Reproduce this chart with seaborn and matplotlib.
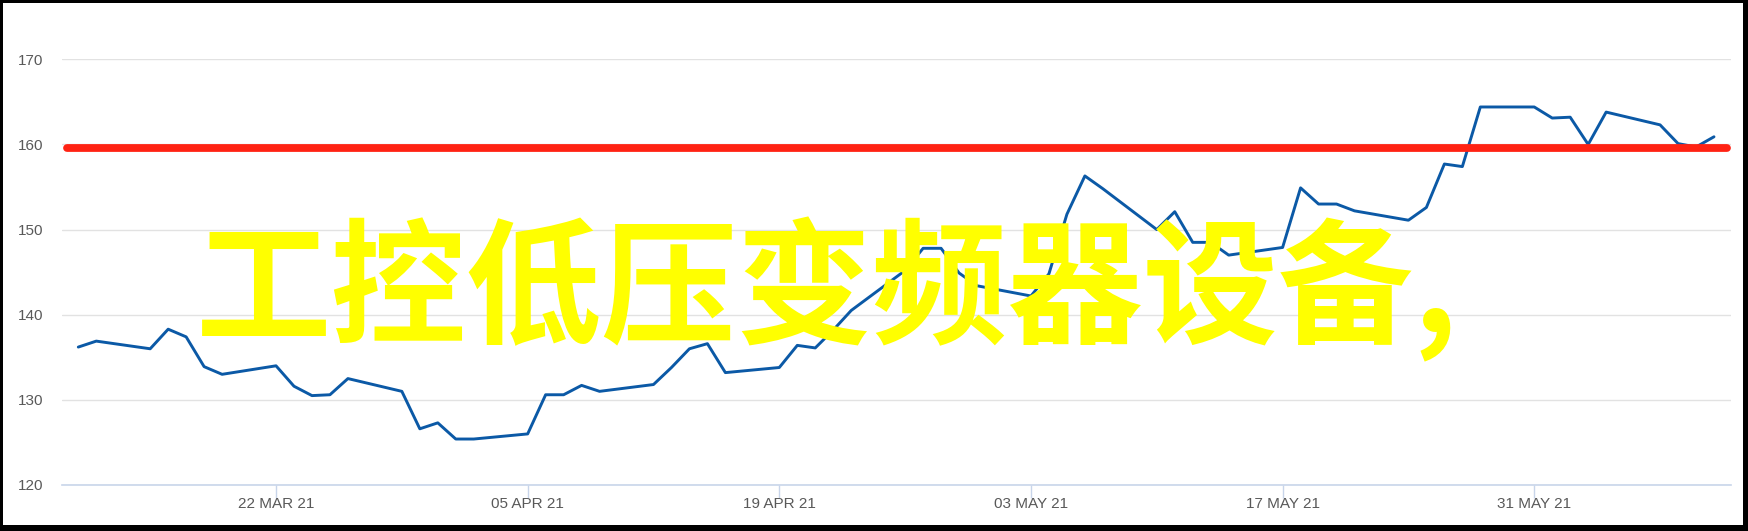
import matplotlib
matplotlib.use("Agg")
import matplotlib.pyplot as plt
from matplotlib.patches import Rectangle
import pandas as pd
import seaborn as sns

# daily closes
dates = [
    "2021-03-11", "2021-03-12",
    "2021-03-15", "2021-03-16", "2021-03-17", "2021-03-18", "2021-03-19",
    "2021-03-22", "2021-03-23", "2021-03-24", "2021-03-25", "2021-03-26",
    "2021-03-29", "2021-03-30", "2021-03-31", "2021-04-01", "2021-04-02",
    "2021-04-05", "2021-04-06", "2021-04-07", "2021-04-08", "2021-04-09",
    "2021-04-12", "2021-04-13", "2021-04-14", "2021-04-15", "2021-04-16",
    "2021-04-19", "2021-04-20", "2021-04-21", "2021-04-22", "2021-04-23",
    "2021-04-26", "2021-04-27", "2021-04-28", "2021-04-29", "2021-04-30",
    "2021-05-03", "2021-05-04", "2021-05-05", "2021-05-06", "2021-05-07",
    "2021-05-10", "2021-05-11", "2021-05-12", "2021-05-13", "2021-05-14",
    "2021-05-17", "2021-05-18", "2021-05-19", "2021-05-20", "2021-05-21",
    "2021-05-24", "2021-05-25", "2021-05-26", "2021-05-27", "2021-05-28",
    "2021-05-31", "2021-06-01", "2021-06-02", "2021-06-03", "2021-06-04",
    "2021-06-07", "2021-06-08", "2021-06-09", "2021-06-10",
]
prices = [
    136.2, 136.9,
    136.0, 138.3, 137.4, 133.9, 133.0,
    134.0, 131.6, 130.5, 130.6, 132.5,
    131.0, 126.6, 127.3, 125.4, 125.4,
    126.0, 130.6, 130.6, 131.7, 131.0,
    131.8, 133.8, 136.0, 136.6, 133.2,
    133.8, 136.4, 136.1, 138.2, 140.5,
    145.2, 147.8, 147.8, 144.9, 143.4,
    142.2, 144.8, 151.8, 156.3, 154.8,
    150.0, 152.1, 148.5, 148.5, 147.0,
    147.9, 154.9, 153.0, 153.0, 152.2,
    151.1, 152.6, 157.7, 157.4, 164.4,
    164.4, 163.1, 163.2, 160.0, 163.8,
    162.3, 160.1, 159.7, 160.9,
]
ref_level = 159.6

tick_dates = ["2021-03-22", "2021-04-05", "2021-04-19", "2021-05-03", "2021-05-17", "2021-05-31"]
tick_labels = ["22 MAR 21", "05 APR 21", "19 APR 21", "03 MAY 21", "17 MAY 21", "31 MAY 21"]
y_ticks = [120, 130, 140, 150, 160, 170]

title = "工控低压变频器设备,"


def main():
    sns.set_theme(style="white")
    plt.rcParams["font.family"] = ["Liberation Sans", "DejaVu Sans"]

    df = pd.DataFrame({"date": pd.to_datetime(dates), "price": prices})

    fig = plt.figure(figsize=(17.48, 5.31), dpi=100)
    ax = fig.add_axes([0.03564, 0.08663, 0.95447, 0.80169])

    sns.lineplot(data=df, x="date", y="price", ax=ax, color="#0b59a6", linewidth=2.1)
    ax.axhline(ref_level, xmin=0.003, xmax=0.998, color="#ff2213", linewidth=5.6,
               solid_capstyle="round", zorder=3)

    ax.set_ylim(120, 170)
    ax.set_xlim(pd.Timestamp("2021-03-11") - pd.Timedelta(days=0.89),
                pd.Timestamp("2021-06-10") + pd.Timedelta(days=0.93))
    ax.set_yticks(y_ticks)
    ax.set_xticks(pd.to_datetime(tick_dates))
    ax.set_xticklabels(tick_labels)
    ax.set_xlabel("")
    ax.set_ylabel("")

    ax.grid(axis="y", color="#e2e2e2", linewidth=1.0)
    ax.grid(axis="x", visible=False)
    ax.set_axisbelow(True)
    for side in ["left", "right", "top"]:
        ax.spines[side].set_visible(False)
    ax.spines["bottom"].set_color("#c8d5ea")
    ax.spines["bottom"].set_linewidth(1.2)

    ax.tick_params(axis="x", length=9, width=1, color="#c8d5ea", pad=0,
                   labelsize=11, labelcolor="#595959", direction="out", bottom=True)
    ax.tick_params(axis="y", length=0, pad=13.5, labelsize=11, labelcolor="#595959")

    fig.text(0.112, 0.373, title, color="#ffff00", fontsize=97.5, fontweight="bold",
             family=["Noto Sans CJK SC", "DejaVu Sans"], ha="left", va="baseline")

    # black frame around the picture
    W, H = 1748, 531
    for x0, y0, w, h in [(0, 0, 3, H), (W - 5, 0, 5, H), (0, 0, W, 6), (0, H - 3, W, 3)]:
        fig.patches.append(Rectangle((x0 / W, y0 / H), w / W, h / H, transform=fig.transFigure,
                                     facecolor="black", edgecolor="none", zorder=10))

    fig.savefig("out.png", dpi=100)


if __name__ == "__main__":
    main()
